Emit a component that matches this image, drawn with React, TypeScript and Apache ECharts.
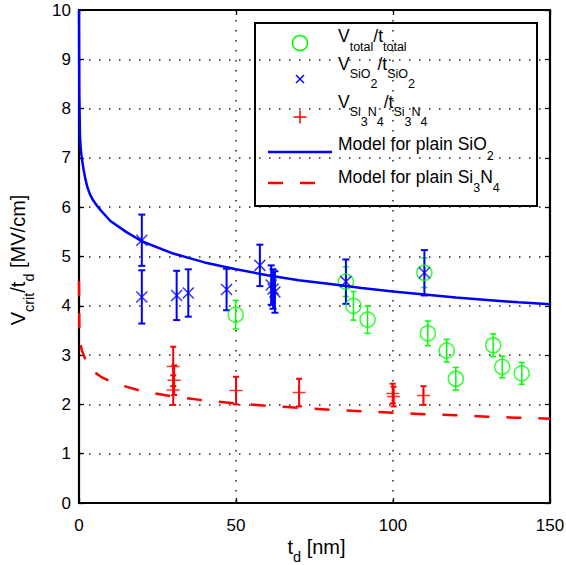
import React, { useEffect, useRef } from "react";
import * as echarts from "echarts";

// ---------- data ----------
const xMin = 0, xMax = 150, xStep = 50;
const yMin = 0, yMax = 10, yStep = 1;

// V_total / t_total (green circles)
const totalT = [49.9, 85.0, 87.4, 91.9, 110.0, 111.1, 117.1, 120.0, 131.9, 134.8, 141.0];
const totalV = [3.82, 4.49, 4.0, 3.72, 4.67, 3.44, 3.09, 2.52, 3.2, 2.76, 2.63];
const totalErr = [0.29, 0.3, 0.29, 0.28, 0.3, 0.25, 0.23, 0.23, 0.23, 0.22, 0.22];

// V_SiO2 / t_SiO2 (blue crosses)
const sioT = [20.0, 20.0, 31.1, 34.8, 47.0, 57.6, 61.2, 61.8, 62.4, 85.0, 110.0];
const sioV = [5.33, 4.18, 4.21, 4.26, 4.33, 4.82, 4.42, 4.34, 4.28, 4.49, 4.67];
const sioErr = [0.52, 0.54, 0.5, 0.48, 0.42, 0.42, 0.4, 0.4, 0.42, 0.45, 0.46];

// V_Si3N4 / t_Si3N4 (red plus)
const sinT = [30.0, 30.3, 30.0, 50.0, 70.1, 99.9, 100.2, 109.7];
const sinV = [2.77, 2.49, 2.29, 2.28, 2.24, 2.22, 2.16, 2.18];
const sinErr = [0.4, 0.3, 0.3, 0.28, 0.28, 0.2, 0.2, 0.19];

// Model for plain SiO2 (solid blue)
const modelSioT = [0, 0.1, 0.3, 0.6, 1, 1.5, 2, 2.7, 3.5, 4.5, 5.5, 7, 10, 15, 20, 30, 40, 50, 60, 70, 80, 90, 100, 110, 120, 130, 140, 150];
const modelSioV = [10, 8.3, 7.45, 7.15, 6.95, 6.75, 6.58, 6.4, 6.26, 6.14, 6.05, 5.93, 5.72, 5.5, 5.31, 5.06, 4.88, 4.74, 4.62, 4.52, 4.44, 4.36, 4.29, 4.23, 4.17, 4.12, 4.07, 4.03];

// Model for plain Si3N4 (dashed red)
const modelSinT = [0, 0.1, 0.3, 1, 2, 3.5, 5, 7, 10, 15, 20, 30, 40, 50, 60, 70, 80, 90, 100, 110, 120, 130, 140, 150];
const modelSinV = [4.5, 3.6, 3.25, 3.08, 2.92, 2.76, 2.65, 2.56, 2.47, 2.36, 2.27, 2.16, 2.08, 2.02, 1.97, 1.93, 1.89, 1.86, 1.83, 1.8, 1.78, 1.75, 1.73, 1.71];

// texts: [fragment, level] (0 = normal, 1 = subscript, 2 = sub-subscript)
type Piece = [string, number];
const legendPieces: Piece[][] = [
  [["V", 0], ["total", 1], ["/t", 0], ["total", 1]],
  [["V", 0], ["SiO", 1], ["2", 2], ["/t", 0], ["SiO", 1], ["2", 2]],
  [["V", 0], ["Si", 1], ["3", 2], ["N", 1], ["4", 2], ["/t", 0], ["Si", 1], ["3", 2], ["N", 1], ["4", 2]],
  [["Model for plain SiO", 0], ["2", 1]],
  [["Model for plain Si", 0], ["3", 1], ["N", 0], ["4", 1]],
];
const xTitlePieces: Piece[] = [["t", 0], ["d", 1], [" [nm]", 0]];
const yTitlePieces: Piece[] = [["V", 0], ["crit", 1], ["/t", 0], ["d", 1], [" [MV/cm]", 0]];

const FONT = "'Liberation Sans', Arial, Helvetica, sans-serif";
const GREEN = "#00ff00";
const BLUE = "#0000ff";
const RED = "#ff0000";

let measureCtx: CanvasRenderingContext2D | null = null;
const measure = (t: string, size: number) => {
  if (!measureCtx) measureCtx = document.createElement("canvas").getContext("2d");
  if (!measureCtx) return t.length * size * 0.55;
  measureCtx.font = `${size}px ${FONT}`;
  return measureCtx.measureText(t).width;
};

// lays out fragments left-to-right, main text centred on y = 0 (local coords)
const layoutPieces = (pieces: Piece[], main: number, sub: number, offs: number[], startX: number) => {
  let x = startX;
  return pieces.map(([txt, lvl]) => {
    const size = lvl === 0 ? main : sub;
    const el = {
      type: "text",
      style: { x, y: offs[lvl], text: txt, font: `${size}px ${FONT}`, fill: "#000", align: "left", verticalAlign: "middle" },
    };
    x += measure(txt, size);
    return el;
  });
};
const piecesWidth = (pieces: Piece[], main: number, sub: number) =>
  pieces.reduce((w, [txt, lvl]) => w + measure(txt, lvl === 0 ? main : sub), 0);

const errSeries = (t: number[], v: number[], e: number[], color: string, lw: number, cap: number) => ({
  type: "custom",
  silent: true,
  data: t.map((x, i) => [x, v[i] - e[i], v[i] + e[i]]),
  encode: { x: 0, y: [1, 2] },
  renderItem: (_params: any, api: any) => {
    const lo = api.coord([api.value(0), api.value(1)]);
    const hi = api.coord([api.value(0), api.value(2)]);
    const style = { stroke: color, lineWidth: lw };
    return {
      type: "group",
      children: [
        { type: "line", shape: { x1: lo[0], y1: lo[1], x2: hi[0], y2: hi[1] }, style },
        { type: "line", shape: { x1: hi[0] - cap, y1: hi[1], x2: hi[0] + cap, y2: hi[1] }, style },
        { type: "line", shape: { x1: lo[0] - cap, y1: lo[1], x2: lo[0] + cap, y2: lo[1] }, style },
      ],
    };
  },
});

const CROSS = "path://M0,0L10,10M10,0L0,10";
const PLUS = "path://M5,0L5,10M0,5L10,5";

export default function App() {
  const ref = useRef<HTMLDivElement>(null);
  useEffect(() => {
    if (!ref.current) return;
    const chart = echarts.init(ref.current, undefined, { renderer: "svg" });
    const GL = 79, GT = 10, GW = 471, GH = 493;
    const axisLine = { show: true, onZero: false, lineStyle: { color: "#000", width: 2.2 } };
    const axisTick = { show: true, inside: true, length: 5, lineStyle: { color: "#000", width: 1.3 } };
    const splitLine = { show: true, lineStyle: { color: "#222", width: 1.5, type: [1.5, 8.5] } };
    const labelStyle = { fontSize: 17, fontFamily: FONT, color: "#000" };

    const legendX = 255, legendY = 23, legendW = 282, legendH = 183;
    const rowY = [36.3, 63.5, 101.7, 144.2, 176.7];
    const rowOffs = [[0, 10.5, 20.5], [0, 10.5, 20.5], [0, 10, 20.5], [0, 11.5, 21], [0, 11.5, 21]];

    const TM = 20, TS = 14.5; // axis title font sizes
    const xTitleW = piecesWidth(xTitlePieces, TM, TS);
    const yTitleW = piecesWidth(yTitlePieces, TM, TS);

    chart.setOption({
      animation: false,
      backgroundColor: "#fff",
      grid: { left: GL, top: GT, width: GW, height: GH, containLabel: false, outerBoundsMode: "none" },
      xAxis: [
        {
          type: "value", min: xMin, max: xMax, interval: xStep, position: "bottom",
          axisLine, axisTick, splitLine,
          axisLabel: { ...labelStyle, margin: 14 },
        },
        {
          type: "value", min: xMin, max: xMax, interval: xStep, position: "top",
          axisLine, axisTick, splitLine: { show: false }, axisLabel: { show: false },
        },
      ],
      yAxis: [
        {
          type: "value", min: yMin, max: yMax, interval: yStep, position: "left",
          axisLine, axisTick, splitLine,
          axisLabel: { ...labelStyle, margin: 8 },
        },
        {
          type: "value", min: yMin, max: yMax, interval: yStep, position: "right",
          axisLine, axisTick, splitLine: { show: false }, axisLabel: { show: false },
        },
      ],
      series: [
        errSeries(totalT, totalV, totalErr, GREEN, 1.5, 3),
        {
          type: "scatter", name: "V_total/t_total", symbol: "circle", symbolSize: 15,
          data: totalT.map((x, i) => [x, totalV[i]]),
          itemStyle: { color: "rgba(0,0,0,0)", borderColor: GREEN, borderWidth: 1.5 },
        },
        errSeries(sioT, sioV, sioErr, BLUE, 2, 3.5),
        {
          type: "scatter", name: "V_SiO2/t_SiO2", symbol: CROSS, symbolSize: 11,
          data: sioT.map((x, i) => [x, sioV[i]]),
          itemStyle: { color: "rgba(0,0,0,0)", borderColor: BLUE, borderWidth: 1.5 },
        },
        errSeries(sinT, sinV, sinErr, RED, 2, 3),
        {
          type: "scatter", name: "V_Si3N4/t_Si3N4", symbol: PLUS, symbolSize: 13,
          data: sinT.map((x, i) => [x, sinV[i]]),
          itemStyle: { color: "rgba(0,0,0,0)", borderColor: RED, borderWidth: 1.5 },
        },
        {
          type: "line", name: "Model for plain SiO2", showSymbol: false, symbol: "none",
          data: modelSioT.map((x, i) => [x, modelSioV[i]]),
          lineStyle: { color: BLUE, width: 2.5 },
        },
        {
          type: "line", name: "Model for plain Si3N4", showSymbol: false, symbol: "none",
          data: modelSinT.map((x, i) => [x, modelSinV[i]]),
          lineStyle: { color: RED, width: 2.5, type: [15, 17] },
        },
      ],
      graphic: [
        // x axis title
        { type: "group", x: 316.5, y: 547, children: layoutPieces(xTitlePieces, TM, TS, [0, 10, 20], -xTitleW / 2) },
        // y axis title (rotated, reads bottom to top)
        { type: "group", x: 17.5, y: 260, rotation: Math.PI / 2,
          children: layoutPieces(yTitlePieces, TM, TS, [0, 11, 21], -yTitleW / 2) },
        // legend
        {
          type: "group", z: 100,
          children: [
            { type: "rect", shape: { x: legendX, y: legendY, width: legendW, height: legendH },
              style: { fill: "#fff", stroke: "#000", lineWidth: 2 } },
            { type: "circle", shape: { cx: 300, cy: 43, r: 7.5 },
              style: { fill: "none", stroke: GREEN, lineWidth: 1.5 } },
            { type: "line", shape: { x1: 296, y1: 75, x2: 304, y2: 83 }, style: { stroke: BLUE, lineWidth: 1.5 } },
            { type: "line", shape: { x1: 304, y1: 75, x2: 296, y2: 83 }, style: { stroke: BLUE, lineWidth: 1.5 } },
            { type: "line", shape: { x1: 300, y1: 110.5, x2: 300, y2: 123.5 }, style: { stroke: RED, lineWidth: 1.5 } },
            { type: "line", shape: { x1: 293.5, y1: 117, x2: 306.5, y2: 117 }, style: { stroke: RED, lineWidth: 1.5 } },
            { type: "line", shape: { x1: 268, y1: 152, x2: 332, y2: 152 }, style: { stroke: BLUE, lineWidth: 2.5 } },
            { type: "line", shape: { x1: 268, y1: 183, x2: 317, y2: 183 }, style: { stroke: RED, lineWidth: 2.5, lineDash: [15, 17] } },
            ...legendPieces.map((pcs, i) => ({
              type: "group", x: 0, y: rowY[i],
              children: layoutPieces(pcs, 17.5, 12.5, rowOffs[i], 338),
            })),
          ],
        },
      ],
    });
    return () => chart.dispose();
  }, []);
  return (
    <div
      ref={ref}
      style={{ position: "fixed", left: 0, top: 0, width: 566, height: 565, background: "#fff" }}
    />
  );
}
